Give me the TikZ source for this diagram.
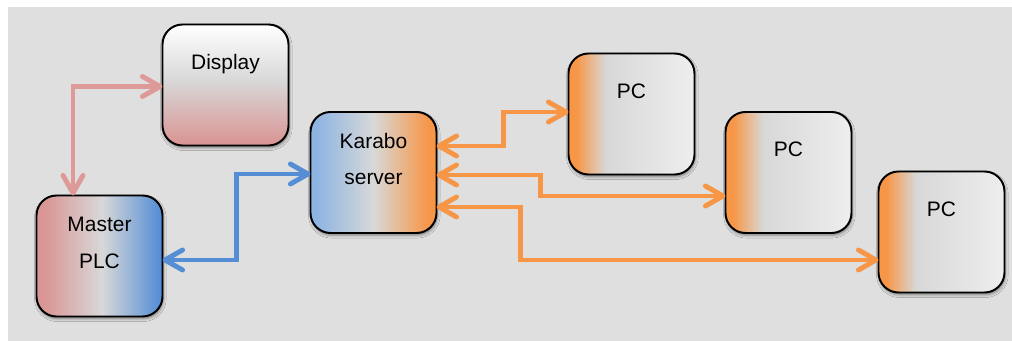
\documentclass[tikz,border=0pt]{standalone}
\usepackage{fontspec}
\setmainfont{Liberation Sans}
\usetikzlibrary{arrows.meta,shadows,shadows.blur,positioning}

\definecolor{bgGray}{HTML}{DFDFDF}
\definecolor{boxGray}{HTML}{D8D8D8}
\definecolor{boxLight}{HTML}{EEEEEE}
\definecolor{plcPink}{HTML}{D99694}
\definecolor{plcBlue}{HTML}{558ED5}
\definecolor{karBlue}{HTML}{8DB4E2}
\definecolor{linePink}{HTML}{DE9A99}
\definecolor{lineBlue}{HTML}{558ED5}
\definecolor{lineOrange}{HTML}{F79646}

\pgfdeclarehorizontalshading{pcshade}{100bp}{color(0bp)=(lineOrange); color(28bp)=(lineOrange); color(40bp)=(boxGray); color(75bp)=(boxLight); color(100bp)=(boxLight)}
\pgfdeclarehorizontalshading{plcshade}{100bp}{color(0bp)=(plcPink); color(28bp)=(plcPink); color(51bp)=(boxGray); color(74bp)=(plcBlue); color(100bp)=(plcBlue)}
\pgfdeclarehorizontalshading{karshade}{100bp}{color(0bp)=(karBlue); color(27bp)=(karBlue); color(50bp)=(boxGray); color(72bp)=(lineOrange); color(100bp)=(lineOrange)}
\pgfdeclareverticalshading{dispshade}{100bp}{color(0bp)=(plcPink); color(26bp)=(plcPink); color(52bp)=(boxGray); color(75bp)=(white); color(100bp)=(white)}

\begin{document}
\begin{tikzpicture}[
        box/.style={draw, line width=1.4pt, rounded corners=0.5cm, minimum width=3.15cm,
            minimum height=3.025cm, inner sep=0pt, outer sep=0pt, align=center,
            font=\fontsize{14.9}{26}\selectfont,
            blur shadow={shadow xshift=0.6pt, shadow yshift=-1.6pt, shadow blur radius=2pt, shadow opacity=45}},
        one/.style={text height=1.125cm, text depth=1.9cm},
        two/.style={text height=1.825cm, text depth=1.2cm},
        pcbox/.style={box, one, shading=pcshade},
        link/.style={line width=3.5pt, <->, >={Straight Barb[length=4.4mm, width=5mm, round]}}
    ]

    % background
    \useasboundingbox (0,0) rectangle (25.3,8.525);
    \fill[bgGray] (0.2,0) rectangle (25.3,8.35);

    % Nodes
    \node[box, two, shading=plcshade] (plc) at (2.4875,2.125) {Master\\PLC};
    \node[box, one, shading=dispshade, above right=1.25cm and 0cm of plc] (disp) {Display};
    \node[box, two, shading=karshade, right=3.7cm of plc, yshift=2.0875cm] (kar) {Karabo\\server};

    \node[pcbox, right=3.3cm of kar, yshift=1.4625cm] (pc1) {PC};
    \node[pcbox, right=0.775cm of pc1, yshift=-1.4625cm] (pc2) {PC};
    \node[pcbox, right=0.675cm of pc2, yshift=-1.4875cm] (pc3) {PC};

    % Edges
    \draw[link, linePink] ([yshift=-0.0375cm]disp.west) -| ([xshift=-0.6625cm]plc.north);
    \draw[link, lineBlue] ([yshift=-0.1cm]plc.east) -- ++(1.85cm,0) |- ([yshift=-0.0375cm]kar.west);
    \draw[link, lineOrange] ([yshift=0.6625cm]kar.east) -- ++(1.675cm,0) |- ([yshift=0.05cm]pc1.west);
    \draw[link, lineOrange] ([yshift=-0.0625cm]kar.east) -- ++(2.6cm,0) |- ([yshift=-0.5875cm]pc2.west);
    \draw[link, lineOrange] ([yshift=-0.8625cm]kar.east) -- ++(2.1cm,0) |- ([yshift=-0.7cm]pc3.west);

\end{tikzpicture}
\end{document}
